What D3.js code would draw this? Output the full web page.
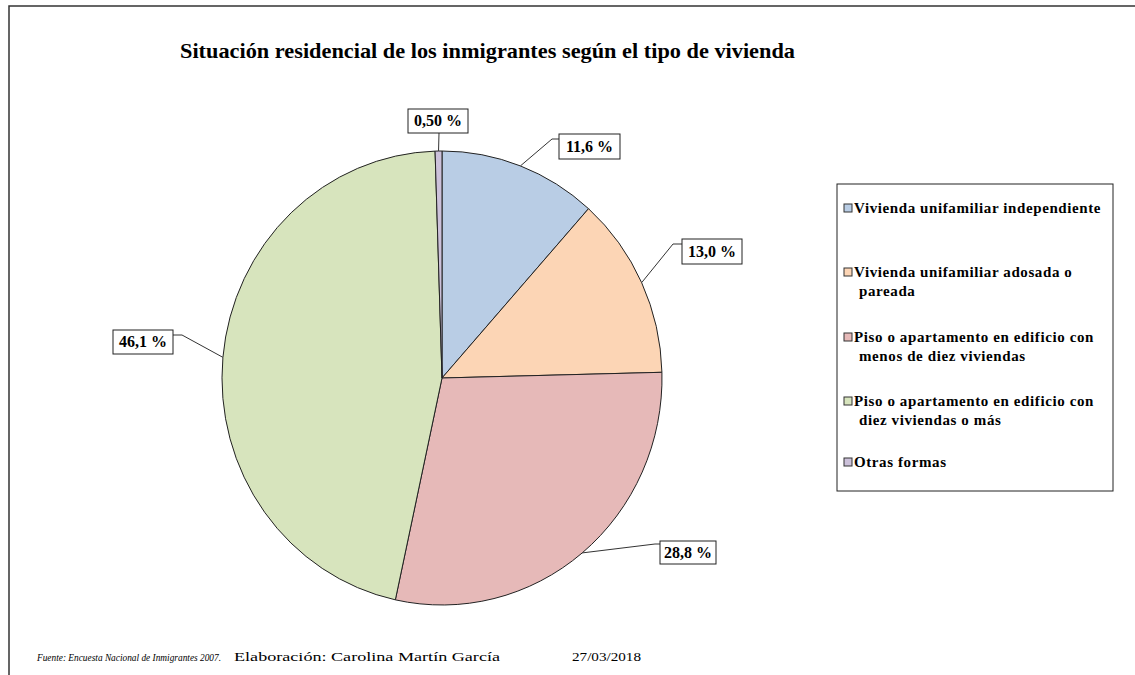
<!DOCTYPE html>
<html>
<head>
<meta charset="utf-8">
<script src="https://cdn.jsdelivr.net/npm/d3@7"></script>
<style>
  body { margin: 0; background: #fff; }
  #chart text { font-family: "Liberation Serif", Tinos, "Times New Roman", Times, "DejaVu Serif", serif; }
</style>
</head>
<body>
<svg id="chart" width="1135" height="675"></svg>
<script>
// data
var categories = [
  "Vivienda unifamiliar independiente",
  "Vivienda unifamiliar adosada o pareada",
  "Piso o apartamento en edificio con menos de diez viviendas",
  "Piso o apartamento en edificio con diez viviendas o más",
  "Otras formas"
];
var values = [11.6, 13.0, 28.8, 46.1, 0.50];
var valueLabels = ["11,6 %", "13,0 %", "28,8 %", "46,1 %", "0,50 %"];
var legendLines = [
  ["Vivienda unifamiliar independiente"],
  ["Vivienda unifamiliar adosada o", "pareada"],
  ["Piso o apartamento en edificio con", "menos de diez viviendas"],
  ["Piso o apartamento en edificio con", "diez viviendas o más"],
  ["Otras formas"]
];
var colors = ["#B9CDE5", "#FCD5B5", "#E6B9B8", "#D7E4BD", "#CCC1DA"];

// label layout: box (x,y,w,h) and elbow of the leader line
var labelBoxes = [
  {x: 559, y: 134, w: 61, h: 25, ex: 552, ey: 139},
  {x: 682, y: 239, w: 60, h: 25, ex: 673, ey: 244},
  {x: 660, y: 541, w: 56, h: 23, ex: 655, ey: 544},
  {x: 113, y: 330, w: 60, h: 24, ex: 182, ey: 335},
  {x: 408, y: 109, w: 60, h: 24, ex: 439, ey: 133}
];

var svg = d3.select("#chart");

// outer frame
svg.append("path")
  .attr("d", "M9,675 L9,6 L1135,6")
  .attr("fill", "none")
  .attr("stroke", "#333")
  .attr("stroke-width", 1.5);

// title
svg.append("text")
  .attr("x", 180).attr("y", 58)
  .attr("font-size", 22).attr("font-weight", "bold")
  .attr("textLength", 615).attr("lengthAdjust", "spacingAndGlyphs")
  .text("Situación residencial de los inmigrantes según el tipo de vivienda");

// pie
var cx = 442, cy = 378, rx = 220, ry = 227;
var pie = d3.pie().sort(null).value(function(d){ return d; });
var arcs = pie(values);
var arc = d3.arc().innerRadius(0).outerRadius(rx);

var g = svg.append("g")
  .attr("transform", "translate(" + cx + "," + cy + ") scale(1," + (ry / rx) + ")");

g.selectAll("path")
  .data(arcs)
  .enter().append("path")
  .attr("d", arc)
  .attr("fill", function(d, i){ return colors[i]; })
  .attr("stroke", "#222")
  .attr("stroke-width", 1)
  .attr("vector-effect", "non-scaling-stroke");

// leader lines + labels
arcs.forEach(function(d, i){
  var a = (d.startAngle + d.endAngle) / 2;
  var px = cx + rx * Math.sin(a);
  var py = cy - ry * Math.cos(a);
  var b = labelBoxes[i];
  var pts;
  if (i === 4) {
    pts = [[px, py], [b.ex, b.ey]];
  } else {
    var bx = b.ex < b.x ? b.x : b.x + b.w;
    pts = [[px, py], [b.ex, b.ey], [bx, b.ey]];
  }
  svg.append("path")
    .attr("d", d3.line()(pts))
    .attr("fill", "none")
    .attr("stroke", "#333")
    .attr("stroke-width", 1);

  svg.append("rect")
    .attr("x", b.x).attr("y", b.y)
    .attr("width", b.w).attr("height", b.h)
    .attr("fill", "#fff")
    .attr("stroke", "#222")
    .attr("stroke-width", 1);

  svg.append("text")
    .attr("x", b.x + b.w / 2).attr("y", b.y + b.h / 2 + 5)
    .attr("text-anchor", "middle")
    .attr("font-size", 16).attr("font-weight", "bold")
    .text(valueLabels[i]);
});

// legend
var legend = svg.append("g");
legend.append("rect")
  .attr("x", 837).attr("y", 184)
  .attr("width", 276).attr("height", 307)
  .attr("fill", "#fff")
  .attr("stroke", "#222")
  .attr("stroke-width", 1);

var itemY = [213, 277, 342, 406, 467];
categories.forEach(function(c, i){
  legend.append("rect")
    .attr("x", 844).attr("y", itemY[i] - 9)
    .attr("width", 8).attr("height", 8)
    .attr("fill", colors[i])
    .attr("stroke", "#333")
    .attr("stroke-width", 1);
  legendLines[i].forEach(function(line, j){
    legend.append("text")
      .attr("x", j === 0 ? 854 : 859)
      .attr("y", itemY[i] + j * 19)
      .attr("font-size", 15).attr("font-weight", "bold")
      .attr("letter-spacing", 0.6)
      .text(line);
  });
});

// footer
var footParts = [
  {t: "Fuente: Encuesta Nacional de Inmigrantes 2007.", x: 37, w: 184, it: true, fs: 10.5},
  {t: "Elaboración: Carolina Martín García", x: 234, w: 266, it: false, fs: 13},
  {t: "27/03/2018", x: 572, w: 69, it: false, fs: 13}
];
footParts.forEach(function(p){
  svg.append("text")
    .attr("x", p.x).attr("y", 661)
    .attr("font-size", p.fs)
    .attr("font-style", p.it ? "italic" : "normal")
    .attr("textLength", p.w).attr("lengthAdjust", "spacingAndGlyphs")
    .text(p.t);
});
</script>
</body>
</html>
